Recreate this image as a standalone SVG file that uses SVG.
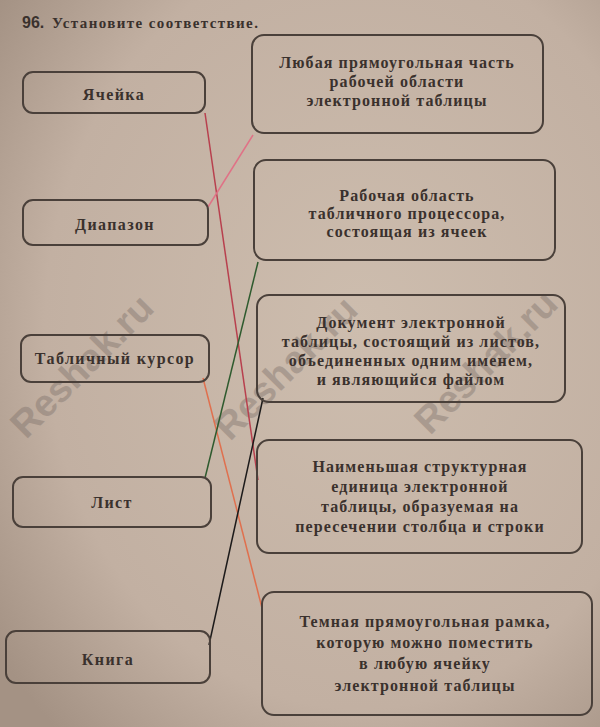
<svg xmlns="http://www.w3.org/2000/svg" width="600" height="727" viewBox="0 0 600 727">
<defs>
<radialGradient id="bg" cx="0.6" cy="0.45" r="0.75">
<stop offset="0" stop-color="#cdbdae"/>
<stop offset="0.7" stop-color="#c2b0a2"/>
<stop offset="1" stop-color="#a49284"/>
</radialGradient>
<style>
.box{fill:none;stroke:#4a403a;stroke-width:2}
.lab{font-family:"Liberation Serif","DejaVu Serif",serif;font-weight:bold;font-size:16px;fill:#3a312d;text-anchor:middle;letter-spacing:1.4px}
.desc{font-family:"Liberation Serif","DejaVu Serif",serif;font-weight:bold;font-size:16px;fill:#3a312d;text-anchor:middle;letter-spacing:1.1px}
.wm{font-family:"Liberation Sans",Arial,sans-serif;font-weight:bold;font-size:38px;fill:#7a6e68;opacity:0.4}
.con{fill:none;stroke-width:1.5}
</style>
</defs>
<rect width="600" height="727" fill="url(#bg)"/>
<g id="watermarks">
<text class="wm" transform="translate(26,440) rotate(-45)">Reshak.ru</text>
<text class="wm" transform="translate(230,442) rotate(-45)">Reshak.ru</text>
<text class="wm" transform="translate(430,436) rotate(-45)">Reshak.ru</text>
</g>
<g id="title">
<text x="22" y="28" font-family="'Liberation Sans',Arial,sans-serif" font-weight="bold" font-size="16" fill="#3a312d">96.</text>
<text x="52" y="28" font-family="'Liberation Serif',serif" font-weight="bold" font-size="15" fill="#3a312d" letter-spacing="1.4">Установите соответствие.</text>
</g>
<g id="connectors">
<line class="con" x1="205" y1="113" x2="258" y2="480" stroke="#b8404e"/>
<line class="con" x1="208" y1="207" x2="253" y2="135" stroke="#e07286"/>
<line class="con" x1="203" y1="378" x2="262" y2="608" stroke="#e0704e"/>
<line class="con" x1="205" y1="478" x2="258" y2="262" stroke="#2e5a2e"/>
<line class="con" x1="209" y1="645" x2="263" y2="398" stroke="#1c1a1a"/>
</g>
<g id="n-cell"><rect class="box" x="23" y="72" width="182" height="41" rx="10"/><text class="lab" x="114" y="100">Ячейка</text></g>
<g id="n-range"><rect class="box" x="23" y="200" width="185" height="45" rx="10"/><text class="lab" x="115" y="230">Диапазон</text></g>
<g id="n-cursor"><rect class="box" x="21" y="335" width="188" height="47" rx="10"/><text class="lab" x="115" y="364">Табличный курсор</text></g>
<g id="n-sheet"><rect class="box" x="13" y="477" width="198" height="50" rx="10"/><text class="lab" x="112" y="508">Лист</text></g>
<g id="n-book"><rect class="box" x="6" y="631" width="204" height="52" rx="10"/><text class="lab" x="108" y="665">Книга</text></g>
<g id="d-range"><rect class="box" x="252" y="35" width="291" height="98" rx="12"/>
<text class="desc" x="397" y="68">Любая прямоугольная часть</text>
<text class="desc" x="397" y="87">рабочей области</text>
<text class="desc" x="397" y="106">электронной таблицы</text></g>
<g id="d-sheet"><rect class="box" x="254" y="160" width="301" height="100" rx="12"/>
<text class="desc" x="407" y="201">Рабочая область</text>
<text class="desc" x="407" y="219">табличного процессора,</text>
<text class="desc" x="407" y="237">состоящая из ячеек</text></g>
<g id="d-book"><rect class="box" x="257" y="295" width="308" height="107" rx="12"/>
<text class="desc" x="411" y="328">Документ электронной</text>
<text class="desc" x="411" y="347">таблицы, состоящий из листов,</text>
<text class="desc" x="411" y="366">объединенных одним именем,</text>
<text class="desc" x="411" y="385">и являющийся файлом</text></g>
<g id="d-cell"><rect class="box" x="257" y="440" width="325" height="113" rx="12"/>
<text class="desc" x="420" y="472">Наименьшая структурная</text>
<text class="desc" x="420" y="492">единица электронной</text>
<text class="desc" x="420" y="512">таблицы, образуемая на</text>
<text class="desc" x="420" y="532">пересечении столбца и строки</text></g>
<g id="d-cursor"><rect class="box" x="262" y="592" width="330" height="123" rx="12"/>
<text class="desc" x="425" y="627">Темная прямоугольная рамка,</text>
<text class="desc" x="425" y="648">которую можно поместить</text>
<text class="desc" x="425" y="669">в любую ячейку</text>
<text class="desc" x="425" y="691">электронной таблицы</text></g>
</svg>
